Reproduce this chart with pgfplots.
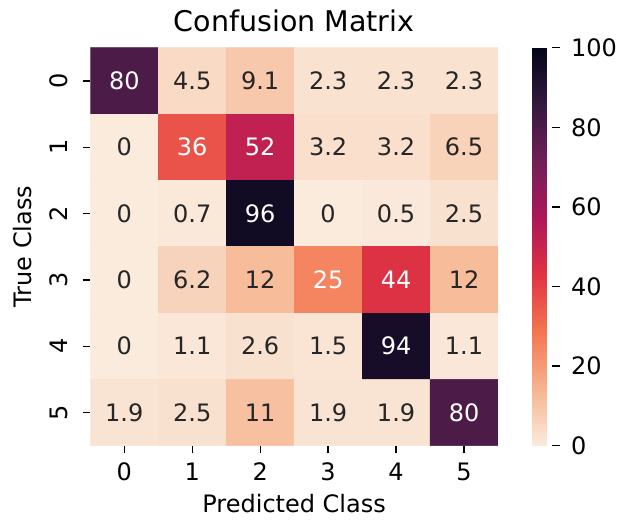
\documentclass[border=0pt]{standalone}
\usepackage{pgfplots}
\pgfplotsset{compat=1.18}
\usepackage{pgfplotstable}
\usepackage{fontspec}
\setmainfont{DejaVu Sans}
\definecolor{ink}{gray}{0.15}

% reversed "rocket" palette: light for 0, nearly black for 100
\pgfplotsset{
  /pgf/number format/assume math mode=true,
  colormap={rocketr}{
    rgb255=(250,235,221) rgb255=(246,180,143) rgb255=(243,118,81)
    rgb255=(225,51,66) rgb255=(173,23,89) rgb255=(112,31,87)
    rgb255=(53,25,62) rgb255=(3,5,26)
  },
}

% confusion matrix in percent; y = -(true class), x = predicted class
\pgfplotstableread{
x y v
0 0 80
1 0 4.5
2 0 9.1
3 0 2.3
4 0 2.3
5 0 2.3
0 -1 0
1 -1 36
2 -1 52
3 -1 3.2
4 -1 3.2
5 -1 6.5
0 -2 0
1 -2 0.7
2 -2 96
3 -2 0
4 -2 0.5
5 -2 2.5
0 -3 0
1 -3 6.2
2 -3 12
3 -3 25
4 -3 44
5 -3 12
0 -4 0
1 -4 1.1
2 -4 2.6
3 -4 1.5
4 -4 94
5 -4 1.1
0 -5 1.9
1 -5 2.5
2 -5 11
3 -5 1.9
4 -5 1.9
5 -5 80
}\cmdata

\newcommand{\lab}{\fontsize{24}{28}\selectfont}

\begin{document}
\begin{tikzpicture}
\begin{axis}[
  name=hm,
  scale only axis,
  width=407.7pt, height=398pt,
  xmin=-0.5, xmax=5.5, ymin=-5.5, ymax=0.5,
  enlargelimits=false,
  axis line style={draw=none},
  xtick={0,...,5},
  ytick={0,-1,-2,-3,-4,-5},
  yticklabels={0,1,2,3,4,5},
  xtick pos=left, ytick pos=left,
  tick align=outside,
  major tick length=7.6pt,
  tick style={draw=black, line width=1.3pt},
  tick label style={font=\lab},
  xticklabel style={inner ysep=9.5pt},
  yticklabel style={rotate=90, anchor=south, inner ysep=14.7pt},
  xlabel={Predicted Class}, ylabel={True Class},
  label style={font=\lab},
  title={Confusion Matrix},
  title style={font=\fontsize{28.5}{34}\selectfont, at={(0.5,1)}, anchor=south, yshift=5.9pt},
  colormap name=rocketr,
  point meta min=0, point meta max=100,
  colorbar,
  colorbar style={
    width=19pt,
    at={(parent axis.north east)}, anchor=north west, xshift=26pt,
    axis line style={draw=none},
    ytick={0,20,...,100},
    ytick pos=right, yticklabel pos=right,
    tick align=outside,
    major tick length=8pt,
    tick style={draw=black, line width=1.3pt},
    ytick style={draw=black, line width=1.3pt},
    tick label style={font=\lab},
    yticklabel style={xshift=8pt},
    % short outward tick strokes on the right edge of the colour bar
    after end axis/.code={
      \foreach \t in {0,0.2,0.4,0.6,0.8,1}{
        \draw[black, line width=1.3pt] (rel axis cs:1,\t) -- ++(8pt,0pt);
      }
    },
  },
]
\addplot[matrix plot*, mesh/cols=6, point meta=explicit]
  table[x=x, y=y, meta=v] {\cmdata};
% cell values: light text on the dark cells, dark text elsewhere
\addplot[draw=none, mark=none, point meta=explicit,
  restrict expr to domain={\thisrow{v}}{20:100},
  nodes near coords,
  every node near coord/.append style={font=\lab, anchor=center, text=white}]
  table[x=x, y=y, meta=v] {\cmdata};
\addplot[draw=none, mark=none, point meta=explicit,
  restrict expr to domain={\thisrow{v}}{0:20},
  nodes near coords,
  every node near coord/.append style={font=\lab, anchor=center, text=ink}]
  table[x=x, y=y, meta=v] {\cmdata};
\end{axis}
\pgfresetboundingbox
\path[use as bounding box] ([shift={(-90.3pt,-75.3pt)}]hm.south west)
  rectangle ([shift={(528.7pt,445.7pt)}]hm.south west);
\end{tikzpicture}
\end{document}
